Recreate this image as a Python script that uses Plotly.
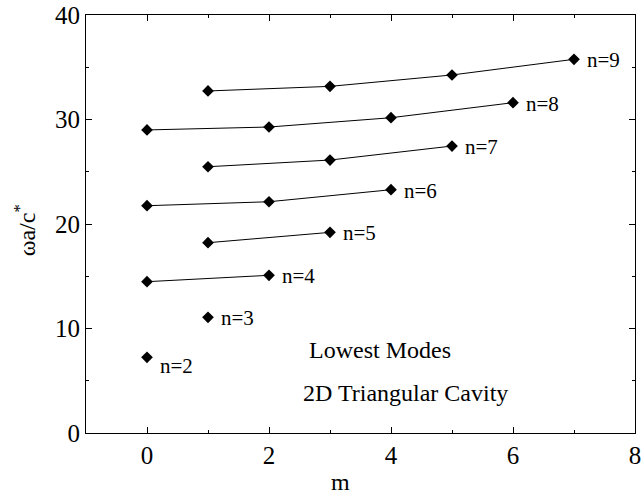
import plotly.graph_objects as go

# Lowest eigenfrequencies of a 2D triangular cavity, grouped by n
m_n2 = [0]
w_n2 = [7.24]
m_n3 = [1]
w_n3 = [11.07]
m_n4 = [0, 2]
w_n4 = [14.48, 15.09]
m_n5 = [1, 3]
w_n5 = [18.21, 19.20]
m_n6 = [0, 2, 4]
w_n6 = [21.75, 22.13, 23.28]
m_n7 = [1, 3, 5]
w_n7 = [25.48, 26.12, 27.46]
m_n8 = [0, 2, 4, 6]
w_n8 = [29.00, 29.28, 30.17, 31.61]
m_n9 = [1, 3, 5, 7]
w_n9 = [32.73, 33.17, 34.26, 35.76]

series = [
    ("n=2", m_n2, w_n2), ("n=3", m_n3, w_n3), ("n=4", m_n4, w_n4),
    ("n=5", m_n5, w_n5), ("n=6", m_n6, w_n6), ("n=7", m_n7, w_n7),
    ("n=8", m_n8, w_n8), ("n=9", m_n9, w_n9),
]

FONT = "Liberation Serif, Times New Roman, serif"

fig = go.Figure()
annotations = []
for label, ms, ws in series:
    fig.add_trace(go.Scatter(
        x=ms, y=ws, mode="lines+markers",
        line=dict(color="black", width=1),
        marker=dict(symbol="diamond", size=9, color="black"),
        showlegend=False, hoverinfo="skip",
    ))
    # label sits to the right of the last mode; n=2 drops slightly below
    annotations.append(dict(
        x=ms[-1], y=ws[-1], xref="x", yref="y", text=label,
        showarrow=False, xanchor="left", yanchor="middle",
        xshift=11, yshift=-9 if label == "n=2" else -1,
        font=dict(family=FONT, size=21, color="black"),
    ))

annotations += [
    dict(x=2.62, y=7.94, xref="x", yref="y", text="Lowest Modes",
         showarrow=False, xanchor="left", yanchor="middle",
         font=dict(family=FONT, size=24, color="black")),
    dict(x=2.52, y=3.85, xref="x", yref="y", text="2D Triangular Cavity",
         showarrow=False, xanchor="left", yanchor="middle",
         font=dict(family=FONT, size=24, color="black")),
    dict(x=0.463, y=-0.153, xref="paper", yref="paper", text="m",
         showarrow=False, xanchor="center", yanchor="bottom",
         font=dict(family=FONT, size=24, color="black")),
    dict(x=-0.111, y=0.485, xref="paper", yref="paper",
         text="\u03c9a/c<sup>*</sup>", textangle=-90,
         showarrow=False, xanchor="center", yanchor="middle",
         font=dict(family=FONT, size=24, color="black")),
]

axis_common = dict(
    showgrid=False, zeroline=False, showline=True, linecolor="black",
    linewidth=1.2, mirror="ticks", ticks="inside", ticklen=6,
    tickcolor="black", tickwidth=1, automargin=False,
    ticklabeloverflow="allow",
    tickfont=dict(family=FONT, size=25, color="black"),
)

fig.update_layout(
    width=641, height=497,
    margin=dict(l=86, r=6, t=15, b=64, autoexpand=False),
    paper_bgcolor="white", plot_bgcolor="white",
    xaxis=dict(range=[-1, 8], tick0=0, dtick=2,
               minor=dict(dtick=1, tick0=0, ticks="inside", ticklen=3,
                          tickcolor="black", showgrid=False),
               **axis_common),
    yaxis=dict(range=[0, 40], tick0=0, dtick=10,
               minor=dict(dtick=5, tick0=0, ticks="inside", ticklen=3,
                          tickcolor="black", showgrid=False),
               **axis_common),
    annotations=annotations,
)

fig.write_html("out.html")
